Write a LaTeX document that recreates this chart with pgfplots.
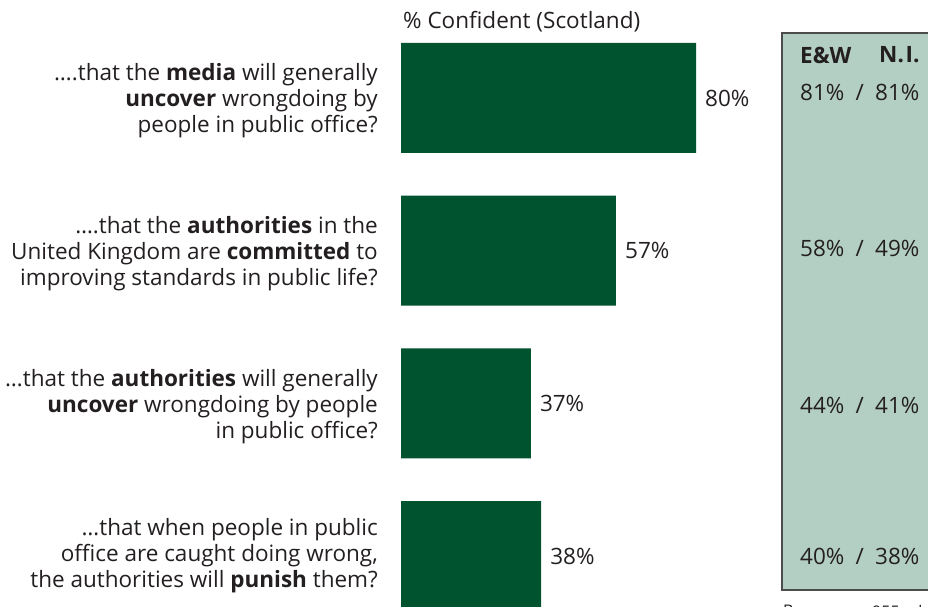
\documentclass[border=0pt]{standalone}
\usepackage{fontspec}
\setmainfont{Open Sans}
\usepackage{pgfplots}
\pgfplotsset{compat=1.18}
\definecolor{barc}{HTML}{00532F}
\definecolor{panel}{HTML}{B3CEC3}
\definecolor{txt}{HTML}{231F20}
\begin{document}
\fontsize{22.5}{26}\selectfont
\begin{tikzpicture}[x=1pt,y=-1pt]
\useasboundingbox (0,0) rectangle (928,606);
\clip (0,0) rectangle (928,606);
\filldraw[fill=panel,draw=black!70,line width=1.5pt] (782,33) rectangle (960,590);
\begin{axis}[at={(401pt,-632.33pt)}, anchor=south west, xbar,
  x=3.6875pt, y=152.67pt, y dir=reverse,
  xmin=0, xmax=100, ymin=0.5, ymax=4.5,
  hide axis, clip=false, bar width=110pt,
  point meta=explicit symbolic,
  nodes near coords={\pgfplotspointmeta\%},
  nodes near coords style={font=\fontsize{22.5}{26}\selectfont, text=txt, anchor=west, inner sep=0pt, xshift=9pt}]
\addplot[fill=barc, draw=none] table[x=v, y=c, meta=lab] {
c v lab
1 80 80
2 58.3 57
3 35.2 37
4 38 38
};
\end{axis}
\begin{scope}[every node/.style={text=txt, inner sep=0pt}]
\node[anchor=west] at (403,22) {\% Confident (Scotland)};
\node[anchor=east, align=right] at (378,101) {….that the \textbf{media} will generally\\\textbf{uncover} wrongdoing by\\people in public office?};
\node[anchor=east, align=right] at (378,254) {….that the \textbf{authorities} in the\\United Kingdom are \textbf{committed} to\\improving standards in public life?};
\node[anchor=east, align=right] at (378,407) {…that the \textbf{authorities} will generally\\\textbf{uncover} wrongdoing by people\\in public office?};
\node[anchor=east, align=right] at (378,556) {…that when people in public\\office are caught doing wrong,\\the authorities will \textbf{punish} them?};
\node[anchor=west, font=\bfseries] at (800,55) {E\&W};
\node[anchor=west, font=\bfseries] at (879,55) {N.\hspace{0.08em}I.};
\node[anchor=west] at (800,92) {81\%\hspace{0.5em}/\hspace{0.5em}81\%};
\node[anchor=west] at (800,248) {58\%\hspace{0.5em}/\hspace{0.5em}49\%};
\node[anchor=west] at (800,405) {44\%\hspace{0.5em}/\hspace{0.5em}41\%};
\node[anchor=west] at (800,556) {40\%\hspace{0.5em}/\hspace{0.5em}38\%};
\node[anchor=west, font=\fontsize{16}{18}\selectfont] at (783,611) {Base:};
\node[anchor=west, font=\fontsize{16}{18}\selectfont] at (872,611) {955 adults};
\end{scope}
\end{tikzpicture}
\end{document}
